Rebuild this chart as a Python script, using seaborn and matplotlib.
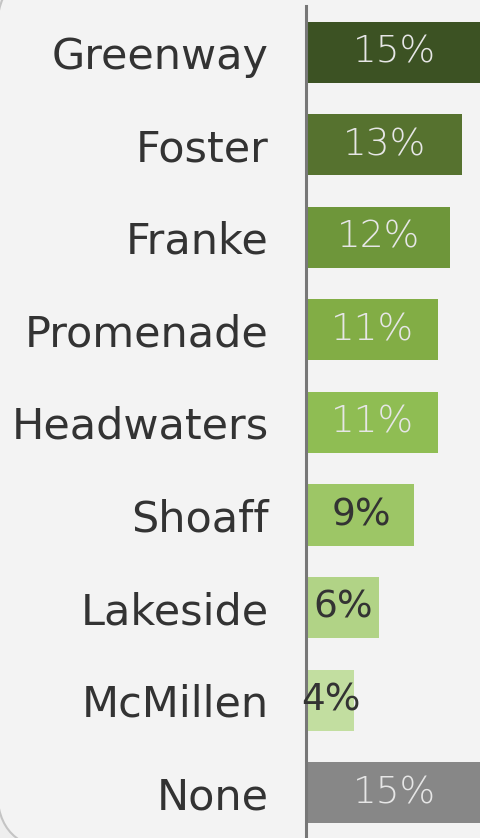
import matplotlib.pyplot as plt
import seaborn as sns
import pandas as pd
from matplotlib.patches import FancyBboxPatch
from matplotlib.transforms import IdentityTransform

# Share of respondents by location
locations = ['Greenway', 'Foster', 'Franke', 'Promenade', 'Headwaters',
             'Shoaff', 'Lakeside', 'McMillen', 'None']
shares = [15.3, 13.0, 12.0, 11.0, 11.0, 9.0, 6.0, 3.9, 15.3]
share_labels = ['15%', '13%', '12%', '11%', '11%', '9%', '6%', '4%', '15%']
bar_colors = ['#3c5223', '#56722f', '#6e963a', '#82ad45', '#8fbd53',
              '#9dc666', '#b1d386', '#c2dea0', '#878787']
text_colors = ['#e6e6e6'] * 5 + ['#333333'] * 3 + ['#e6e6e6']

df = pd.DataFrame({'location': locations, 'share': shares})

W, H = 481, 838
fig = plt.figure(figsize=(W / 100, H / 100), dpi=100)
fig.patch.set_facecolor('#eeeeee')

# rounded panel behind the chart (pixel coords)
panel = FancyBboxPatch((-3, -11), W + 40, H + 41,
                       boxstyle='round,pad=0,rounding_size=60',
                       transform=IdentityTransform(), facecolor='#f3f3f3',
                       edgecolor='#c4c4c4', linewidth=1.5, zorder=-5)
fig.patches.append(panel)

ax = fig.add_axes([306 / W, 0, 1 - 306 / W, 1 - 6 / H])
ax.set_facecolor('none')
ax.set_zorder(2)

sns.barplot(data=df, x='share', y='location', hue='location',
            palette=bar_colors, orient='h', width=0.66, legend=False,
            saturation=1, ax=ax)

for cont, lab, tc in zip(ax.containers, share_labels, text_colors):
    wt = 'light' if tc != '#333333' else 'normal'
    ax.bar_label(cont, labels=[lab], label_type='center', color=tc,
                 fontsize=27, fontweight=wt)

ax.set_xlim(-0.17, 14.65)
ax.set_ylim(8.49, -0.5)
ax.set_xlabel('')
ax.set_ylabel('')
ax.set_xticks([])
ax.tick_params(axis='y', length=0, pad=27, labelsize=31, labelcolor='#333333')
for s in ['top', 'right', 'bottom']:
    ax.spines[s].set_visible(False)
ax.spines['left'].set_color('#777777')
ax.spines['left'].set_linewidth(2.2)

fig.savefig('out.png', dpi=100, facecolor=fig.get_facecolor())
